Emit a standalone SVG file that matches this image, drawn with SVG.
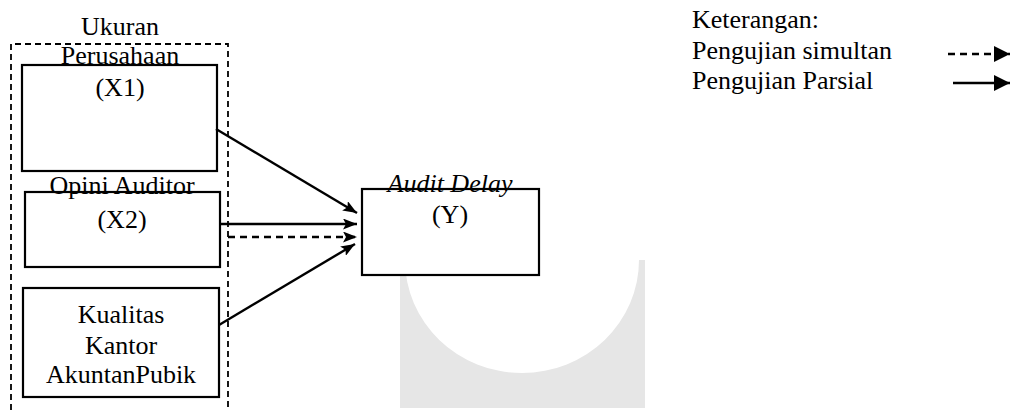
<svg xmlns="http://www.w3.org/2000/svg" width="1012" height="410" viewBox="0 0 1012 410">
  <style>
    .t { font-family: "Liberation Serif", Tinos, "DejaVu Serif", serif; font-size: 26px; fill: #000; }
    .c { text-anchor: middle; }
    .i { font-style: italic; }
    .box { fill: none; stroke: #000; stroke-width: 2.2; }
    .frame { fill: none; stroke: #000; stroke-width: 1.8; stroke-dasharray: 6 4; }
    .ln { fill: none; stroke: #000; stroke-width: 2.4; }
    .dash { stroke-dasharray: 7 5; }
  </style>
  <defs>
    <marker id="ah" viewBox="0 0 14 11" refX="14" refY="5.5" markerWidth="14" markerHeight="11" markerUnits="userSpaceOnUse" orient="auto">
      <path d="M0,0 L14,5.5 L0,11 L3,5.5 z" fill="#000"/>
    </marker>
    <marker id="ahL" viewBox="0 0 16 16" refX="16" refY="8" markerWidth="16" markerHeight="16" markerUnits="userSpaceOnUse" orient="auto">
      <path d="M0,0 L16,8 L0,16 z" fill="#000"/>
    </marker>
  </defs>

  <!-- watermark -->
  <path d="M400,260 L405,260 A117,113 0 0 0 639,260 L645,260 L645,408 L400,408 z" fill="#e6e6e6"/>

  <!-- dashed frame around independent variables -->
  <path class="frame" d="M11,410 L11,44 L228,44 L228,410"/>

  <g id="x1">
    <rect class="box" x="22" y="65" width="195" height="106"/>
    <text class="t c" x="120" y="35">Ukuran</text>
    <text class="t c" x="120" y="64">Perusahaan</text>
    <text class="t c" x="120" y="96">(X1)</text>
  </g>

  <g id="x2">
    <rect class="box" x="25" y="192" width="195" height="75"/>
    <text class="t c" x="122" y="194">Opini Auditor</text>
    <text class="t c" x="122" y="228">(X2)</text>
  </g>

  <g id="x3">
    <rect class="box" x="23" y="288" width="196" height="109"/>
    <text class="t c" x="121" y="323">Kualitas</text>
    <text class="t c" x="121" y="354">Kantor</text>
    <text class="t c" x="121" y="383">AkuntanPubik</text>
  </g>

  <g id="y">
    <rect class="box" x="362" y="189" width="177" height="86" fill="#fff" style="fill:#fff"/>
    <text class="t c i" x="450" y="192">Audit Delay</text>
    <text class="t c" x="450" y="223">(Y)</text>
  </g>

  <g id="connectors">
    <line class="ln" x1="216" y1="129" x2="357" y2="213" marker-end="url(#ah)"/>
    <line class="ln" x1="220" y1="224" x2="357" y2="224" marker-end="url(#ah)"/>
    <line class="ln dash" x1="228" y1="237" x2="357" y2="237" marker-end="url(#ah)"/>
    <line class="ln" x1="219" y1="325" x2="355" y2="244" marker-end="url(#ah)"/>
  </g>

  <g id="legend">
    <text class="t" x="692" y="28">Keterangan:</text>
    <text class="t" x="692" y="59">Pengujian simultan</text>
    <text class="t" x="692" y="89">Pengujian Parsial</text>
    <line class="ln dash" x1="948" y1="54" x2="1010" y2="54" marker-end="url(#ahL)"/>
    <line class="ln" x1="953" y1="83" x2="1010" y2="83" marker-end="url(#ahL)"/>
  </g>
</svg>
